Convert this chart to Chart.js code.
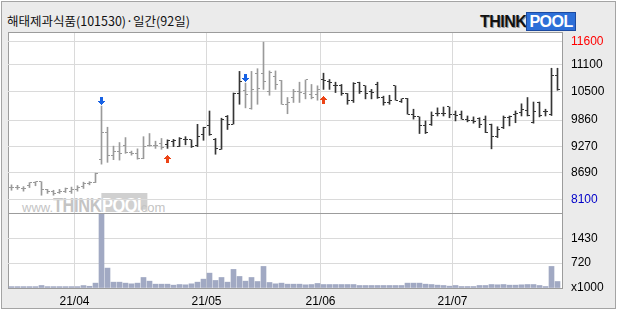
<!DOCTYPE html>
<html><head><meta charset="utf-8">
<script src="https://cdn.jsdelivr.net/npm/chart.js@4/dist/chart.umd.min.js"></script>
<style>
html,body{margin:0;padding:0;width:620px;height:310px;overflow:hidden;background:#fff}
#frame{position:absolute;left:1px;top:1px;width:613px;height:306px;border:1px solid #a4a4a4;background:#ebebeb}
#panel{position:absolute;left:8px;top:32px;width:554px;height:256px;background:#fff}
#title{position:absolute;left:7px;top:13px;font:12.5px 'Noto Sans CJK KR',sans-serif;color:#111;white-space:nowrap;line-height:16px}
#logo{position:absolute;left:480px;top:14px;height:17px;white-space:nowrap;font:bold 16px 'Liberation Sans',sans-serif;line-height:16px}
#logo .t{color:#111;letter-spacing:-0.5px;text-shadow:1px 1px 0 #9a9a9a}
#logo .p{color:#fff;background:#2d6fd8;padding:0 2px;letter-spacing:-0.5px;border:1px solid #1c4aa0}
#wmclip{position:absolute;left:8px;top:180px;width:200px;height:32px;overflow:hidden}
#wm{position:absolute;left:14px;top:13px;white-space:nowrap;color:#c4c4c4;line-height:20px}
#wm .s{font:13px 'Liberation Sans',sans-serif}
#wm .b{font:bold 21px 'Liberation Sans',sans-serif;display:inline-block;transform:scaleX(0.78);transform-origin:left;letter-spacing:-0.5px}
#wm .bp{color:#fff;background:#d0d0d0;padding:0 1px}
canvas{position:absolute;left:0;top:0}
</style></head>
<body>
<div id="frame"></div>
<div id="panel"></div>
<div id="wmclip"><div id="wm"><span class="s">www.</span><span class="b" style="width:72px">THINK<span class="bp">POOL</span></span><span class="s" style="position:relative;left:12px">.com</span></div></div>
<div id="title">해태제과식품(101530)·일간(92일)</div>
<div id="logo"><span class="t">THINK</span><span class="p">POOL</span></div>
<canvas id="c" width="620" height="310"></canvas>
<script>
// ---- data ----
const openP  = [8360,8360,8340,8400,8470,8490,8310,8280,8250,8280,8280,8320,8380,8450,8470,8990,9590,9070,9170,9300,9140,9110,9000,9290,9290,9340,9320,9390,9280,9420,9420,9290,9530,9740,9420,9210,9940,9770,10460,10510,10110,10890,10900,10500,10820,10740,10210,10360,10500,10450,10430,10430,10760,10710,10620,10620,10450,10300,10690,10620,10500,10650,10360,10250,10620,10270,10340,9990,9930,9730,9760,10000,10010,10150,9990,9990,9880,9840,9890,9880,9770,9490,9690,9910,9990,10020,10080,9800,10250,10040,9990,10850];
const highP  = [8420,8410,8380,8470,8490,8490,8320,8300,8320,8350,8370,8400,8480,8490,8680,10170,9700,9280,9360,9470,9170,9220,9490,9560,9390,9450,9420,9430,9470,9490,9420,9765,9700,10060,9450,9900,9960,10460,10940,10680,10940,11000,11590,10950,10950,10740,10360,10540,10700,10750,10650,10620,10900,10760,10700,10650,10450,10690,10700,10620,10540,10700,10390,10410,10620,10330,10340,10100,9930,9840,10040,10130,10150,10150,10060,10060,9950,9930,9910,9950,9770,9710,9950,9950,10060,10220,10360,10260,10260,10100,11010,11010];
const lowP   = [8300,8320,8280,8360,8400,8190,8230,8190,8230,8250,8230,8280,8340,8420,8470,8880,8920,8980,8970,9120,9080,8990,9000,9280,9230,9210,9230,9270,9270,9310,9250,9270,9410,9520,9100,9210,9650,9770,10210,10130,10100,10210,10540,10410,10540,10210,10000,10250,10250,10330,10330,10300,10540,10540,10470,10410,10210,10250,10450,10330,10330,10340,10190,10210,10300,10250,9990,9880,9560,9560,9740,9950,9950,9910,9840,9880,9820,9790,9690,9580,9220,9470,9670,9730,9800,9950,9950,9790,9930,9950,9960,10520];
const closeP = [8360,8360,8340,8470,8490,8310,8280,8230,8280,8340,8320,8360,8450,8470,8680,9590,9080,9150,9120,9140,9120,9000,9280,9300,9290,9250,9410,9410,9450,9420,9270,9500,9700,9540,9220,9880,9750,10460,10710,10430,10540,10560,10710,10910,10650,10210,10250,10500,10480,10750,10360,10540,10730,10700,10620,10450,10300,10680,10500,10450,10470,10360,10250,10300,10300,10330,9990,9930,9730,9590,9950,10010,10010,9990,9950,9880,9840,9820,9770,9590,9490,9650,9910,9930,10010,10100,9970,10060,9970,10060,10850,10540];
const volume = [40,40,40,40,40,72,40,40,40,40,40,40,70,50,140,2124,573,168,168,140,120,140,303,197,110,110,110,82,100,92,120,168,255,428,217,303,168,535,332,197,303,187,621,159,120,140,110,110,110,92,100,130,100,100,100,100,100,100,72,72,72,72,72,72,72,72,140,140,140,110,100,82,72,53,72,43,43,43,72,72,100,92,100,82,82,92,100,100,72,43,621,187];
const buySignals  = [26, 52];
const sellSignals = [15, 39];
const monthLabels   = ['21/04','21/05','21/06','21/07'];
const monthStartIdx = [11, 33, 52, 74];
const priceTicks = [8100, 8690, 9270, 9860, 10500, 11100, 11600];
const volTicks   = [720, 1430];
const volUnitLabel = 'x1000';

// ---- styles ----
const GRAY = '#9a9a9a', DARK = '#363636', FRAME = '#9c9c9c', GRID = '#dadada', VOL = '#a1a9c3';
const X_MIN = -0.5 - 1/12, X_MAX = 91.75;
const P_MIN = 7795, P_MAX = 11815, V_MIN = 0, V_MAX = 2160;
const AXFONT = {family: "'Liberation Sans Narrow','Liberation Sans',sans-serif", size: 12};

const n = openP.length;
const barColor = [];
let dark = false;
for (let i = 0; i < n; i++) {
  if (buySignals.includes(i)) dark = true;
  if (sellSignals.includes(i)) dark = false;
  barColor.push(dark ? DARK : GRAY);
}
function tickImg(color, left) {
  const c = document.createElement('canvas'); c.width = 5; c.height = 1;
  const g = c.getContext('2d'); g.fillStyle = color; g.fillRect(left ? 0 : 3, 0, 2, 1); return c;
}
const tk = {L:{}, R:{}};
[GRAY, DARK].forEach(col => { tk.L[col] = tickImg(col, true); tk.R[col] = tickImg(col, false); });
function arrowImg(color, down) {
  const c = document.createElement('canvas'); c.width = 7; c.height = down ? 20 : 30;
  const g = c.getContext('2d'); g.fillStyle = color;
  const rows = [[2,3],[2,3],[2,3],[2,3],[0,7],[1,5],[2,3],[3,1]];
  rows.forEach((r, k) => g.fillRect(r[0], down ? 1 + k : 22 + (7 - k), r[1], 1));
  return c;
}

const crisp = {id:'crisp', beforeDatasetsDraw(chart){ chart.ctx.imageSmoothingEnabled = false; }};

new Chart(document.getElementById('c'), {
  type: 'bar',
  data: {
    datasets: [
      {type:'scatter', data: sellSignals.map(i => ({x:i, y:highP[i]})), yAxisID:'y', pointStyle: arrowImg('#1862e4', true), pointRadius: 3},
      {type:'scatter', data: buySignals.map(i => ({x:i, y:lowP[i]})), yAxisID:'y', pointStyle: arrowImg('#ec4416', false), pointRadius: 3},
      {type:'scatter', data: openP.map((v,i) => ({x:i, y:v})), yAxisID:'y', pointStyle: barColor.map(c => tk.L[c]), pointRadius: 1},
      {type:'scatter', data: closeP.map((v,i) => ({x:i, y:v})), yAxisID:'y', pointStyle: barColor.map(c => tk.R[c]), pointRadius: 1},
      {type:'bar', data: lowP.map((v,i) => ({x:i, y:[v, highP[i]]})), yAxisID:'y', backgroundColor: barColor, barThickness: 1, grouped: false},
      {type:'bar', data: volume.map((v,i) => ({x:i, y:v})), yAxisID:'yv', backgroundColor: VOL, barThickness: 5, grouped: false}
    ]
  },
  options: {
    responsive: false, animation: false, devicePixelRatio: 1, events: [],
    layout: {padding: {left: 8, top: 32, right: 0, bottom: 0}},
    plugins: {legend: {display: false}, tooltip: {enabled: false}},
    scales: {
      x: {
        type: 'linear', min: X_MIN, max: X_MAX, offset: false,
        grid: {offset: false, drawTicks: false, color: c => (c.tick && (c.tick.value === X_MIN || c.tick.value === X_MAX)) ? FRAME : GRID},
        border: {display: true, color: FRAME},
        ticks: {autoSkip: false, maxRotation: 0, padding: 6, color: '#000', font: {family: "'Liberation Sans',sans-serif", size: 12},
          callback: v => { const k = monthStartIdx.findIndex(i => i - 0.5 === v); return k >= 0 ? monthLabels[k] : ''; }},
        afterBuildTicks: s => { s.ticks = [X_MIN, ...monthStartIdx.map(i => i - 0.5), X_MAX].map(v => ({value: v})); },
        afterFit: s => { s.height = 22; }
      },
      y: {
        type: 'linear', position: 'right', stack: 'main', stackWeight: 181, min: P_MIN, max: P_MAX,
        grid: {drawTicks: false, color: c => (c.tick && (c.tick.value === P_MIN || c.tick.value === P_MAX)) ? FRAME : GRID},
        border: {display: true, color: FRAME},
        ticks: {autoSkip: false, padding: 9, font: AXFONT,
          color: c => c.tick.value === priceTicks[priceTicks.length-1] ? '#ff0000' : (c.tick.value === priceTicks[0] ? '#0000c8' : '#000'),
          callback: v => priceTicks.includes(v) ? String(v) : ''},
        afterBuildTicks: s => { s.ticks = [P_MIN, ...priceTicks, P_MAX].map(v => ({value: v})); },
        afterFit: s => { s.width = 58; }
      },
      yv: {
        type: 'linear', position: 'right', stack: 'main', stackWeight: 75, min: V_MIN, max: V_MAX,
        grid: {drawTicks: false, color: c => (c.tick && (c.tick.value === V_MIN || c.tick.value === V_MAX)) ? FRAME : GRID},
        border: {display: true, color: FRAME},
        ticks: {autoSkip: false, padding: 9, font: AXFONT, color: '#000',
          callback: v => v === V_MIN ? volUnitLabel : (volTicks.includes(v) ? String(v) : '')},
        afterBuildTicks: s => { s.ticks = [V_MIN, ...volTicks, V_MAX].map(v => ({value: v})); },
        afterFit: s => { s.width = 58; }
      }
    }
  },
  plugins: [crisp]
});
</script>
</body></html>
